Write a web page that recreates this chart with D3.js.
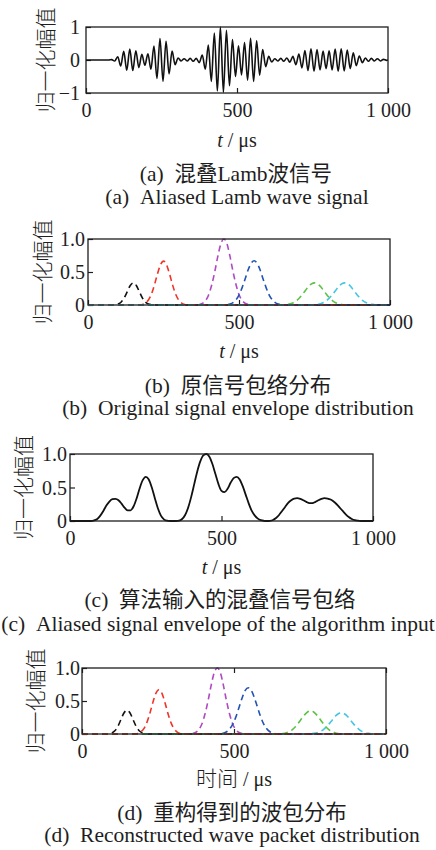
<!DOCTYPE html>
<html>
<head>
<meta charset="utf-8">
<script src="https://cdn.jsdelivr.net/npm/d3@7/dist/d3.min.js"></script>
<style>
  html, body { margin: 0; padding: 0; background: #fff; }
  svg { display: block; }
</style>
</head>
<body>
<script>
// ---- data ---------------------------------------------------------------
const xTicks = [0, 500, 1000];
const xTickLabels = ["0", "500", "1 000"];
const signalTicks = [-1, 0, 1];
const signalTickLabels = ["\u22121", "0", "1"];
const envTicks = [0, 0.5, 1];
const envTickLabels = ["0", "0.5", "1.0"];

// (a) mixed Lamb wave: successive extrema, one every 10 µs starting at 65 µs
const signalStart = 65;
const signalStep = 10;
const signalPeaks = [
  0, -0, 0.01, -0.03, 0.1, -0.18, 0.26, -0.31, 0.33, -0.32,
  0.28, -0.23, 0.17, -0.16, 0.19, -0.28, 0.42, -0.56, 0.65, -0.65,
  0.57, -0.42, 0.27, -0.14, 0.06, -0.03, 0.04, -0.03, 0.05, -0.04,
  0.05, -0.08, 0.15, -0.28, 0.45, -0.65, 0.82, -0.94, 1.0, -0.98,
  0.9, -0.78, 0.62, -0.5, 0.43, -0.45, 0.53, -0.61, 0.66, -0.65,
  0.58, -0.46, 0.32, -0.2, 0.11, -0.06, 0.04, -0.03, 0.05, -0.04,
  0.06, -0.07, 0.11, -0.14, 0.18, -0.24, 0.29, -0.32, 0.34, -0.34,
  0.32, -0.3, 0.27, -0.26, 0.28, -0.3, 0.33, -0.34, 0.34, -0.33,
  0.3, -0.26, 0.22, -0.17, 0.12, -0.08, 0.06, -0.04, 0.05, -0.03,
  0.04, -0.03, 0.02, -0.01
];

// (b) original wave packet envelopes, [t (µs), amplitude]
const origBlack = [[0,0],[80,0],[90,0.004],[100,0.015],[110,0.045],[120,0.109],[130,0.203],[140,0.296],[150,0.335],[160,0.296],[170,0.203],[180,0.109],[190,0.045],[200,0.015],[210,0.004],[220,0],[1000,0]];
const origRed = [[0,0],[160,0],[170,0.003],[180,0.009],[190,0.029],[200,0.076],[210,0.166],[220,0.305],[230,0.47],[240,0.61],[250,0.665],[260,0.61],[270,0.47],[280,0.305],[290,0.166],[300,0.076],[310,0.029],[320,0.009],[330,0.003],[340,0],[1000,0]];
const origMagenta = [[0,0],[360,0],[370,0.009],[380,0.027],[390,0.07],[400,0.16],[410,0.31],[420,0.51],[430,0.74],[440,0.93],[450,1.0],[460,0.93],[470,0.74],[480,0.51],[490,0.31],[500,0.16],[510,0.07],[520,0.027],[530,0.009],[540,0],[1000,0]];
const origBlue = [[0,0],[450,0],[460,0.005],[470,0.015],[480,0.036],[490,0.08],[500,0.15],[510,0.26],[520,0.39],[530,0.53],[540,0.63],[550,0.67],[560,0.63],[570,0.53],[580,0.39],[590,0.26],[600,0.15],[610,0.08],[620,0.036],[630,0.015],[640,0.005],[650,0],[1000,0]];
const origGreen = [[0,0],[640,0],[650,0.003],[660,0.008],[670,0.018],[680,0.035],[690,0.064],[700,0.106],[710,0.16],[720,0.22],[730,0.28],[740,0.32],[750,0.335],[760,0.32],[770,0.28],[780,0.22],[790,0.16],[800,0.106],[810,0.064],[820,0.035],[830,0.018],[840,0.008],[850,0.003],[860,0],[1000,0]];
const origCyan = [[0,0],[740,0],[750,0.004],[760,0.009],[770,0.019],[780,0.037],[790,0.066],[800,0.11],[810,0.16],[820,0.22],[830,0.28],[840,0.32],[850,0.335],[860,0.32],[870,0.28],[880,0.22],[890,0.16],[900,0.11],[910,0.066],[920,0.037],[930,0.019],[940,0.009],[950,0.004],[960,0],[1000,0]];

// (c) envelope of the mixed signal fed to the algorithm
const mixedEnvelope = [
  [0,0],[70,0],[80,0.01],[90,0.03],[100,0.08],[110,0.15],[120,0.23],[130,0.29],[140,0.325],[150,0.33],
  [160,0.31],[170,0.26],[180,0.2],[190,0.16],[200,0.16],[210,0.22],[220,0.34],[230,0.49],[240,0.61],[250,0.66],
  [260,0.62],[270,0.5],[280,0.34],[290,0.19],[300,0.08],[310,0.025],[320,0.005],[330,0],[350,0],[360,0.005],
  [370,0.03],[380,0.09],[390,0.2],[400,0.36],[410,0.55],[420,0.74],[430,0.89],[440,0.98],[450,1.0],[460,0.96],
  [470,0.85],[480,0.7],[490,0.55],[500,0.45],[510,0.43],[520,0.48],[530,0.57],[540,0.64],[550,0.66],[560,0.62],
  [570,0.52],[580,0.39],[590,0.26],[600,0.15],[610,0.08],[620,0.035],[630,0.012],[640,0.003],[650,0],[660,0.003],
  [670,0.015],[680,0.045],[690,0.09],[700,0.15],[710,0.21],[720,0.27],[730,0.31],[740,0.335],[750,0.34],[760,0.33],
  [770,0.31],[780,0.285],[790,0.268],[800,0.268],[810,0.285],[820,0.31],[830,0.33],[840,0.34],[850,0.335],[860,0.32],
  [870,0.29],[880,0.25],[890,0.2],[900,0.15],[910,0.1],[920,0.06],[930,0.03],[940,0.012],[950,0.004],[960,0],[1000,0]
];

// (d) reconstructed wave packets
const recBlack = [[0,0],[78,0],[88,0.005],[98,0.016],[108,0.048],[118,0.117],[128,0.218],[138,0.318],[148,0.36],[158,0.318],[168,0.218],[178,0.117],[188,0.05],[198,0.02],[208,0.008],[218,0],[1000,0]];
const recRed = [[0,0],[163,0],[173,0.003],[183,0.009],[193,0.03],[203,0.077],[213,0.168],[223,0.308],[233,0.475],[243,0.615],[253,0.67],[263,0.615],[273,0.475],[283,0.308],[293,0.168],[303,0.077],[313,0.03],[323,0.009],[333,0.003],[343,0],[1000,0]];
const recMagenta = [[0,0],[355,0],[365,0.009],[375,0.027],[385,0.07],[395,0.16],[405,0.31],[415,0.51],[425,0.74],[435,0.93],[445,1.0],[455,0.93],[465,0.74],[475,0.51],[485,0.31],[495,0.16],[505,0.07],[515,0.027],[525,0.009],[535,0],[1000,0]];
const recBlue = [[0,0],[447,0],[457,0.005],[467,0.016],[477,0.038],[487,0.083],[497,0.157],[507,0.27],[517,0.41],[527,0.55],[537,0.66],[547,0.7],[557,0.66],[567,0.55],[577,0.41],[587,0.27],[597,0.157],[607,0.083],[617,0.038],[627,0.016],[637,0.005],[647,0],[1000,0]];
const recGreen = [[0,0],[642,0],[652,0.003],[662,0.008],[672,0.019],[682,0.037],[692,0.067],[702,0.11],[712,0.167],[722,0.23],[732,0.29],[742,0.334],[752,0.35],[762,0.334],[772,0.29],[782,0.23],[792,0.167],[802,0.11],[812,0.067],[822,0.037],[832,0.019],[842,0.008],[852,0.003],[862,0],[1000,0]];
const recCyan = [[0,0],[743,0],[753,0.004],[763,0.009],[773,0.018],[783,0.035],[793,0.063],[803,0.105],[813,0.153],[823,0.21],[833,0.268],[843,0.306],[853,0.32],[863,0.306],[873,0.268],[883,0.21],[893,0.153],[903,0.105],[913,0.063],[923,0.035],[933,0.018],[943,0.009],[953,0.004],[963,0],[1000,0]];

// ---- styles ---------------------------------------------------------------
const colors = {
  black: "#111111",
  red: "#f0342a",
  magenta: "#b04ac4",
  blue: "#2352b5",
  green: "#5cc244",
  cyan: "#44c6e2"
};
const serif = "'Liberation Serif', 'Times New Roman', serif";
const cjkSerif = "'Liberation Serif', 'Noto Sans CJK SC', serif";
const cjk = "'Noto Sans CJK SC', sans-serif";
const ink = "#1e1e1e";

const svg = d3.select("body").append("svg")
  .attr("width", 436).attr("height", 850)
  .attr("viewBox", "0 0 436 850");
svg.append("rect").attr("width", 436).attr("height", 850).attr("fill", "#fff");

let clipId = 0;

function drawPanel(o) {
  const g = svg.append("g");
  const x = d3.scaleLinear().domain([0, 1000]).range([o.left, o.right]);
  const y = d3.scaleLinear().domain(o.yDomain).range([o.bottom, o.top]);

  // bottom axis, ticks pointing inwards
  const xAxis = g.append("g")
    .attr("transform", `translate(0,${o.bottom})`)
    .call(d3.axisBottom(x).tickValues(xTicks)
      .tickFormat((d, i) => xTickLabels[i]).tickSize(-5).tickPadding(10));
  xAxis.select(".domain").remove();
  xAxis.selectAll("line").attr("stroke", ink).attr("stroke-width", 1.2);
  xAxis.selectAll("text")
    .attr("y", 24).attr("dy", null)
    .attr("fill", ink).style("font-family", serif).style("font-size", "20px");

  if (o.tickTop) {
    const topAxis = g.append("g")
      .attr("transform", `translate(0,${o.top})`)
      .call(d3.axisTop(x).tickValues(xTicks).tickFormat("").tickSize(-5));
    topAxis.select(".domain").remove();
    topAxis.selectAll("line").attr("stroke", ink).attr("stroke-width", 1.2);
  }

  // left axis, ticks pointing inwards
  const yAxis = g.append("g")
    .attr("transform", `translate(${o.left},0)`)
    .call(d3.axisLeft(y).tickValues(o.yTicks)
      .tickFormat((d, i) => o.yTickLabels[i]).tickSize(-5).tickPadding(o.yPad));
  yAxis.select(".domain").remove();
  yAxis.selectAll("line").attr("stroke", ink).attr("stroke-width", 1.2);
  yAxis.selectAll("text")
    .attr("dy", "0.34em")
    .attr("fill", ink).style("font-family", serif).style("font-size", "20px");

  // curves, clipped to the plot box
  const id = "clip" + (clipId++);
  g.append("clipPath").attr("id", id).append("rect")
    .attr("x", o.left).attr("y", o.top - 1)
    .attr("width", o.right - o.left).attr("height", o.bottom - o.top + 2);
  const plot = g.append("g").attr("clip-path", `url(#${id})`);
  const line = d3.line().x(d => x(d[0])).y(d => y(d[1])).curve(d3.curveMonotoneX);
  o.series.forEach(s => {
    plot.append("path")
      .datum(s.data)
      .attr("d", line)
      .attr("fill", "none")
      .attr("stroke", s.color)
      .attr("stroke-width", s.width)
      .attr("stroke-dasharray", s.dash || null)
      .attr("stroke-linejoin", "round");
  });

  // frame
  g.append("rect")
    .attr("x", o.left).attr("y", o.top)
    .attr("width", o.right - o.left).attr("height", o.bottom - o.top)
    .attr("fill", "none").attr("stroke", ink).attr("stroke-width", 1.3);

  // y title
  g.append("text")
    .attr("transform", `translate(${o.yLabelX},${(o.top + o.bottom) / 2}) rotate(-90)`)
    .attr("text-anchor", "middle").attr("dy", "0.36em")
    .attr("fill", ink).style("font-family", cjk).style("font-size", "21px")
    .style("font-weight", 300)
    .text("归一化幅值");

  // x title
  const xt = g.append("text")
    .attr("x", (o.left + o.right) / 2).attr("y", o.xTitleY)
    .attr("text-anchor", "middle").attr("fill", ink)
    .style("font-family", cjkSerif).style("font-size", "20px");
  if (o.xTitleCjk) {
    xt.append("tspan").style("font-family", cjk).style("font-weight", 300)
      .style("font-size", "21px").text(o.xTitleCjk);
    xt.append("tspan").text(" / \u03bcs");
  } else {
    xt.append("tspan").style("font-style", "italic").text("t");
    xt.append("tspan").text(" / \u03bcs");
  }

  // captions: Chinese line, then English line
  g.append("text")
    .attr("x", o.capX).attr("y", o.capY1).attr("text-anchor", "middle")
    .attr("fill", ink).style("font-family", cjkSerif).style("font-size", "21.5px")
    .text(o.capTag + "\u00a0\u00a0" + o.capCn);
  g.append("text")
    .attr("x", o.capX2).attr("y", o.capY2).attr("text-anchor", "middle")
    .attr("fill", ink).style("font-family", serif).style("font-size", "21.5px")
    .text(o.capTag + "\u00a0\u00a0" + o.capEn);
}

const signalPoints = [[0, 0], [signalStart - 10, 0]]
  .concat(signalPeaks.map((v, i) => [signalStart + i * signalStep, v]))
  .concat([[1000, 0]]);

const dash = "6,4";
const dashW = 1.6;

drawPanel({
  left: 86, right: 388, top: 27, bottom: 93,
  yDomain: [-1, 1], yTicks: signalTicks, yTickLabels: signalTickLabels, yPad: 6,
  yLabelX: 45, xTitleY: 147,
  series: [{ data: signalPoints, color: colors.black, width: 1.6 }],
  capTag: "(a)",
  capX: 236, capY1: 181, capCn: "混叠Lamb波信号",
  capX2: 237, capY2: 204, capEn: "Aliased Lamb wave signal"
});

drawPanel({
  left: 88, right: 390, top: 239, bottom: 305,
  yDomain: [0, 1], yTicks: envTicks, yTickLabels: envTickLabels, yPad: 3,
  yLabelX: 42, xTitleY: 358,
  series: [
    { data: origBlack, color: colors.black, width: dashW, dash },
    { data: origMagenta, color: colors.magenta, width: dashW, dash },
    { data: origBlue, color: colors.blue, width: dashW, dash },
    { data: origGreen, color: colors.green, width: dashW, dash },
    { data: origRed, color: colors.red, width: dashW, dash },
    { data: origCyan, color: colors.cyan, width: dashW, dash }
  ],
  capTag: "(b)",
  capX: 238, capY1: 393, capCn: "原信号包络分布",
  capX2: 238, capY2: 415, capEn: "Original signal envelope distribution"
});

drawPanel({
  left: 70, right: 373, top: 454, bottom: 521,
  yDomain: [0, 1], yTicks: envTicks, yTickLabels: envTickLabels, yPad: 3,
  yLabelX: 23, xTitleY: 574,
  series: [{ data: mixedEnvelope, color: colors.black, width: 1.8 }],
  capTag: "(c)",
  capX: 220, capY1: 607, capCn: "算法输入的混叠信号包络",
  capX2: 218, capY2: 631, capEn: "Aliased signal envelope of the algorithm input"
});

drawPanel({
  left: 82, right: 386, top: 668, bottom: 734, tickTop: true,
  yDomain: [0, 1], yTicks: envTicks, yTickLabels: envTickLabels, yPad: 2,
  yLabelX: 35, xTitleY: 786, xTitleCjk: "时间",
  series: [
    { data: recBlack, color: colors.black, width: dashW, dash },
    { data: recMagenta, color: colors.magenta, width: dashW, dash },
    { data: recBlue, color: colors.blue, width: dashW, dash },
    { data: recCyan, color: colors.cyan, width: dashW, dash },
    { data: recGreen, color: colors.green, width: dashW, dash },
    { data: recRed, color: colors.red, width: dashW, dash }
  ],
  capTag: "(d)",
  capX: 232, capY1: 820, capCn: "重构得到的波包分布",
  capX2: 232, capY2: 842, capEn: "Reconstructed wave packet distribution"
});
</script>
</body>
</html>
